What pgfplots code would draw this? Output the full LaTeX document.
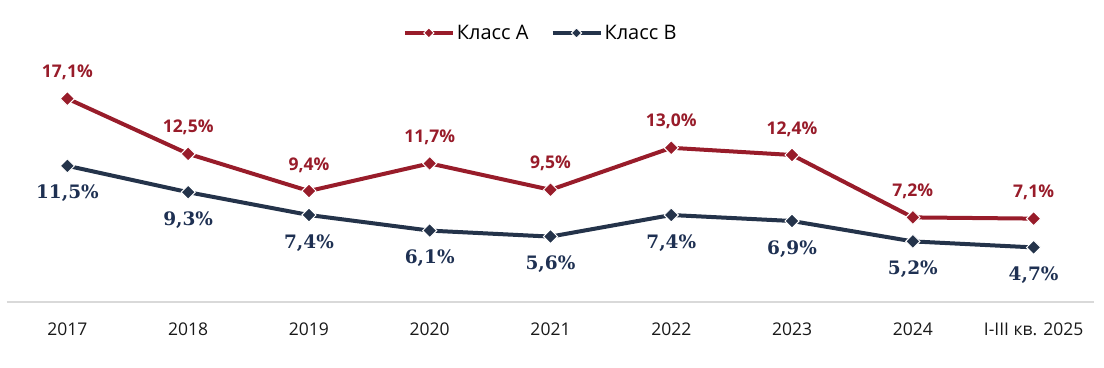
\documentclass[border=0pt]{standalone}
\usepackage{pgfplots}
\pgfplotsset{compat=1.18}
\usepackage{fontspec}
\setmainfont{Open Sans}
\newfontfamily\serifB{DejaVu Serif}
\usetikzlibrary{calc}
\definecolor{cA}{RGB}{152,28,42}
\definecolor{cB}{RGB}{36,51,74}
\definecolor{lB}{RGB}{30,48,82}
\begin{document}
\begin{tikzpicture}
\begin{axis}[
  scale only axis, width=1087pt, height=240pt,
  xmin=-0.5, xmax=8.5, ymin=0.15, ymax=20.15,
  axis x line=bottom, axis y line=none,
  axis line style={-, draw=black!15, line width=1.3pt},
  xtick={0,...,8},
  xticklabels={2017,2018,2019,2020,2021,2022,2023,2024,I-III кв. 2025},
  major tick length=0pt,
  xticklabel style={font=\fontsize{17.5}{20}\selectfont, text=black!90, yshift=-17pt},
  ytick=\empty,
  clip=false,
  legend columns=2,
  legend cell align=left,
  legend style={at={(0.491,1.121)}, anchor=center, draw=none, fill=none,
    font=\fontsize{20}{22}\selectfont,
    /tikz/every even column/.append style={column sep=20pt}},
  legend image code/.code={\draw[#1, mark repeat=2, mark phase=2, mark size=3.6pt] plot coordinates {(0pt,0pt)(24pt,0pt)(48pt,0pt)};},
  point meta=explicit symbolic,
]
\addplot[color=cA, line width=4pt, mark=square*, mark size=5pt,
  mark options={rotate=45, fill=cA, draw=white, line width=1pt},
  nodes near coords,
  nodes near coords style={font=\fontsize{17.5}{20}\selectfont\bfseries, text=cA, anchor=base, yshift=21pt, inner sep=0pt}]
coordinates {
(0,17.1) [17,1\%]
(1,12.5) [12,5\%]
(2,9.4) [9,4\%]
(3,11.7) [11,7\%]
(4,9.5) [9,5\%]
(5,13.0) [13,0\%]
(6,12.4) [12,4\%]
(7,7.2) [7,2\%]
(8,7.1) [7,1\%]
};
\addlegendentry{Класс A}
\addplot[color=cB, line width=4pt, mark=square*, mark size=5pt,
  mark options={rotate=45, fill=cB, draw=white, line width=1pt},
  nodes near coords,
  nodes near coords style={font=\fontsize{18.5}{20}\selectfont\serifB\bfseries, text=lB, anchor=base, yshift=-33pt, inner sep=0pt}]
coordinates {
(0,11.5) [11,5\%]
(1,9.3) [9,3\%]
(2,7.4) [7,4\%]
(3,6.1) [6,1\%]
(4,5.6) [5,6\%]
(5,7.4) [7,4\%]
(6,6.9) [6,9\%]
(7,5.2) [5,2\%]
(8,4.7) [4,7\%]
};
\addlegendentry{Класс B}
\end{axis}
\pgfresetboundingbox
\path ($(current axis.south west)+(-7pt,-65pt)$) rectangle ($(current axis.north east)+(10pt,62pt)$);
\end{tikzpicture}
\end{document}
